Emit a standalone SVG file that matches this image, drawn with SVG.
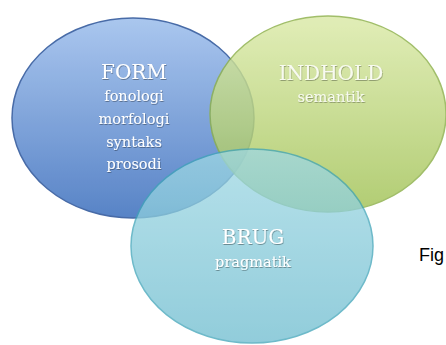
<svg xmlns="http://www.w3.org/2000/svg" width="446" height="345" viewBox="0 0 446 345">
<defs>
<linearGradient id="gBlue" x1="0" y1="0" x2="0" y2="1">
<stop offset="0" stop-color="#a6c4ee"/><stop offset="1" stop-color="#4f7dc4"/>
</linearGradient>
<linearGradient id="gGreen" x1="0" y1="0" x2="0" y2="1">
<stop offset="0" stop-color="#dbeaa8"/><stop offset="1" stop-color="#a1c255"/>
</linearGradient>
<linearGradient id="gCyan" x1="0" y1="0" x2="0" y2="1">
<stop offset="0" stop-color="#9fd8e4"/><stop offset="1" stop-color="#6dbccf"/>
</linearGradient>
<filter id="sh" x="-10%" y="-10%" width="120%" height="130%">
<feDropShadow dx="0.6" dy="1" stdDeviation="0.7" flood-color="#000" flood-opacity="0.35"/>
</filter>
</defs>
<style>
.lbl{font-family:"DejaVu Serif","Liberation Serif",serif;fill:#fff;text-anchor:middle;filter:url(#sh)}
.t{font-size:20px}
.s{font-size:14.5px}
</style>
<rect width="446" height="345" fill="#fff"/>
<g id="form">
<ellipse cx="133" cy="118" rx="121" ry="100" fill="url(#gBlue)" stroke="#3f64a3" stroke-width="1.5" opacity="0.95"/>
<text class="lbl t" x="134" y="79">FORM</text>
<text class="lbl s" x="134" y="101">fonologi</text>
<text class="lbl s" x="134" y="124">morfologi</text>
<text class="lbl s" x="134" y="147">syntaks</text>
<text class="lbl s" x="134" y="169">prosodi</text>
</g>
<g id="indhold">
<ellipse cx="328" cy="114" rx="118" ry="98" fill="url(#gGreen)" stroke="#8db04a" stroke-width="1.5" opacity="0.82"/>
<text class="lbl t" x="331" y="80" opacity="0.85">INDHOLD</text>
<text class="lbl s" x="331" y="102" opacity="0.85">semantik</text>
</g>
<g id="brug">
<ellipse cx="252" cy="246" rx="121" ry="97" fill="url(#gCyan)" stroke="#3ea3b8" stroke-width="1.5" opacity="0.75"/>
<text class="lbl t" x="253" y="244">BRUG</text>
<text class="lbl s" x="253" y="267">pragmatik</text>
</g>
<g id="connectors"></g>
<text x="419" y="261" font-family="'Liberation Sans',sans-serif" font-size="18" fill="#000">Fig</text>
</svg>
